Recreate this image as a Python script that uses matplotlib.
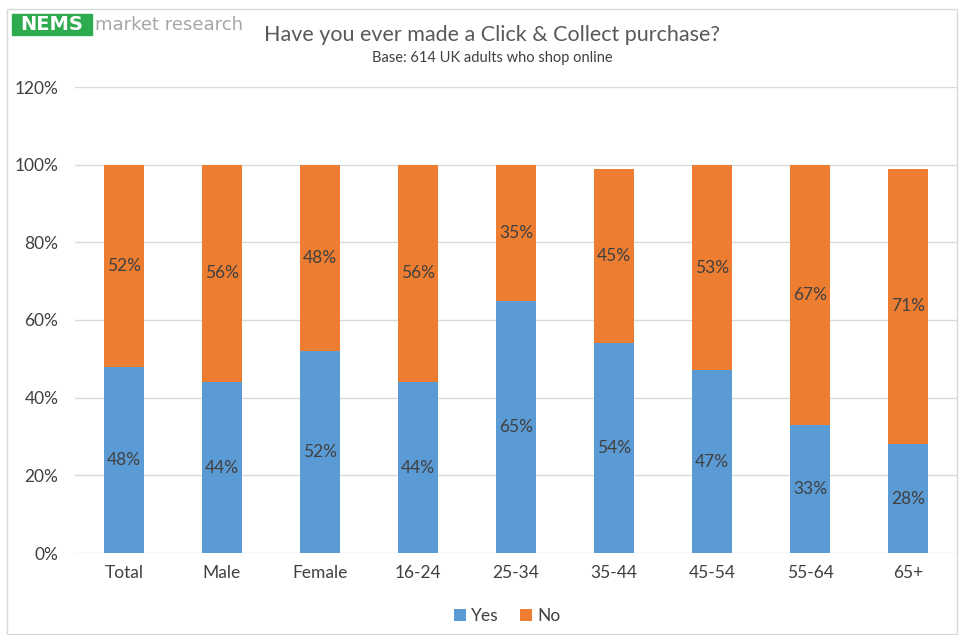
import numpy as np
import matplotlib.pyplot as plt
from matplotlib.patches import Rectangle

groups = ["Total", "Male", "Female", "16-24", "25-34", "35-44", "45-54", "55-64", "65+"]
yes = [48, 44, 52, 44, 65, 54, 47, 33, 28]
no = [52, 56, 48, 56, 35, 45, 53, 67, 71]
yticks = [0, 20, 40, 60, 80, 100, 120]

blue = "#5B9BD5"
orange = "#ED7D31"
txt = "#404040"
plt.rcParams['font.family'] = ['Lato', 'DejaVu Sans']

fig = plt.figure(figsize=(9.67, 6.35), dpi=100)
# thin frame round the chart
fig.patches.append(Rectangle((7/967, 0.002), 0.99 - 7/967, 0.984, transform=fig.transFigure,
                             fill=False, edgecolor="#D9D9D9", lw=1))

ax = fig.add_axes([75/967, 1-553/635, 882/967, (553-87)/635])
x = np.arange(len(groups))
w = 0.4
b1 = ax.bar(x, yes, w, color=blue, label="Yes", zorder=3)
b2 = ax.bar(x, no, w, bottom=yes, color=orange, label="No", zorder=3)
for bars in (b1, b2):
    ax.bar_label(bars, labels=[f"{int(r.get_height())}%" for r in bars],
                 label_type="center", color=txt, fontsize=12.5)

ax.set_ylim(0, 120)
ax.set_xlim(-0.5, len(groups) - 0.5)
ax.set_yticks(yticks)
ax.set_yticklabels([f"{t}%" for t in yticks])
ax.set_xticks(x)
ax.set_xticklabels(groups)
ax.tick_params(axis="both", length=0, labelsize=12.5, labelcolor=txt)
ax.tick_params(axis="y", pad=12)
ax.tick_params(axis="x", pad=9)
ax.grid(axis="y", color="#D9D9D9", lw=1, zorder=0)
for s in ax.spines.values():
    s.set_visible(False)

ax.legend(loc="upper center", bbox_to_anchor=(0.49, -0.085), ncol=2, frameon=False,
          fontsize=12.5, handlelength=0.7, handleheight=0.7, handletextpad=0.3,
          columnspacing=1.2, labelcolor=txt)

# logo
fig.patches.append(Rectangle((12/967, 1-35/635), 80/967, 21/635, transform=fig.transFigure,
                             color="#2EAA4F"))
fig.text(52/967, 1-24.5/635, "NEMS", color="white", fontsize=14, fontweight="bold",
         family="DejaVu Sans", ha="center", va="center")
fig.text(95/967, 1-24.5/635, "market research", color="#A6A6A6", fontsize=13,
         family="DejaVu Sans", ha="left", va="center")

fig.text(492/967, 1-35/635, "Have you ever made a Click & Collect purchase?",
         fontsize=15.5, color="#595959", ha="center", va="center")
fig.text(492/967, 1-58/635, "Base: 614 UK adults who shop online",
         fontsize=10.5, color=txt, ha="center", va="center")

fig.savefig("out.png", dpi=100)
